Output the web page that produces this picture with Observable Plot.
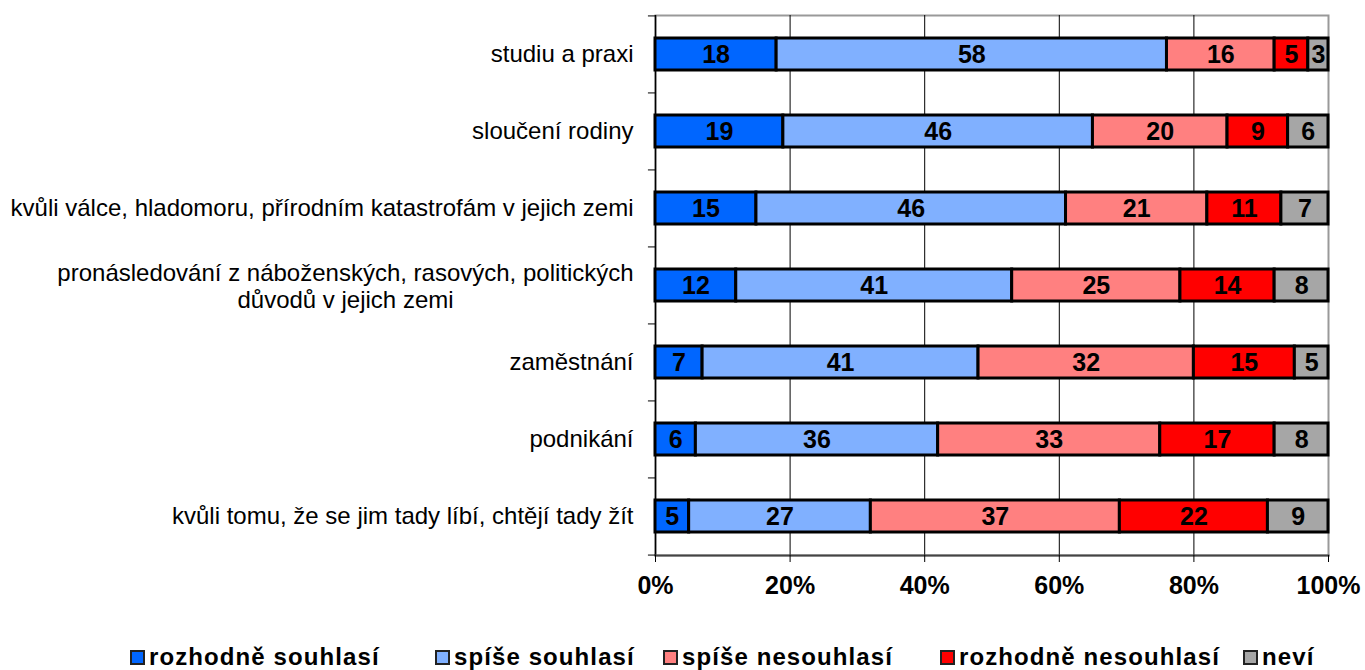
<!DOCTYPE html>
<html>
<head>
<meta charset="utf-8">
<script src="https://cdn.jsdelivr.net/npm/d3@7"></script>
<script src="https://cdn.jsdelivr.net/npm/@observablehq/plot@0.6"></script>
<style>
  body { margin: 0; background: #fff; font-family: "Liberation Sans", Arial, sans-serif; }
  #chart { position: relative; width: 1365px; }
  #legend { position: relative; height: 38px; width: 1365px; font-weight: bold; font-size: 24px; letter-spacing: 1.1px; color: #000; }
  .item { position: absolute; top: 10px; display: flex; align-items: center; white-space: nowrap; line-height: 30px; }
  .sw { width: 11px; height: 11px; border: 2px solid #222; margin-right: 4px; }
</style>
</head>
<body>
<div id="chart"></div>
<div id="legend"></div>
<script>
const categories = [
  "studiu a praxi",
  "sloučení rodiny",
  "kvůli válce, hladomoru, přírodním katastrofám v jejich zemi",
  "pronásledování z náboženských, rasových, politických\ndůvodů v jejich zemi",
  "zaměstnání",
  "podnikání",
  "kvůli tomu, že se jim tady líbí, chtějí tady žít"
];
const series = ["rozhodně souhlasí", "spíše souhlasí", "spíše nesouhlasí", "rozhodně nesouhlasí", "neví"];
const colors = ["#0066FF", "#80B0FF", "#FF8080", "#FF0000", "#A6A6A6"];
const rozhodneSouhlasi = [18, 19, 15, 12, 7, 6, 5];
const spiseSouhlasi = [58, 46, 46, 41, 41, 36, 27];
const spiseNesouhlasi = [16, 20, 21, 25, 32, 33, 37];
const rozhodneNesouhlasi = [5, 9, 11, 14, 15, 17, 22];
const nevi = [3, 6, 7, 8, 5, 8, 9];
const xTicks = [0, 20, 40, 60, 80, 100];
const legendLeft = [130, 435, 663, 940, 1243];

const seriesValues = [rozhodneSouhlasi, spiseSouhlasi, spiseNesouhlasi, rozhodneNesouhlasi, nevi];
const data = [];
categories.forEach((c, i) => {
  series.forEach((s, j) => data.push({category: c, series: s, value: seriesValues[j][i]}));
});

const multi = categories.filter(c => c.includes("\n"));
const single = categories.filter(c => !c.includes("\n"));
const lastCat = categories[categories.length - 1];
const step = (555 - 15) / categories.length;

const chart = Plot.plot({
  width: 1365,
  height: 632,
  marginLeft: 655,
  marginRight: 37,
  marginTop: 15,
  marginBottom: 77,
  style: {fontFamily: "'Liberation Sans', Arial, sans-serif", background: "#fff"},
  x: {domain: [0, 100], axis: null},
  y: {domain: categories, paddingInner: 0.584, paddingOuter: 0.292, axis: null},
  color: {domain: series, range: colors},
  marks: [
    Plot.frame({stroke: "#999", strokeWidth: 2}),
    Plot.gridX(xTicks.slice(1, -1), {stroke: "#000", strokeOpacity: 1, strokeWidth: 1}),
    Plot.ruleX([0], {stroke: "#000", strokeWidth: 1.5}),
    Plot.frame({anchor: "bottom", stroke: "#444", strokeWidth: 2}),
    Plot.ruleY(categories, {y: d => d, x1: -1.05, x2: 0, dy: -step / 2, stroke: "#000"}),
    Plot.ruleY([lastCat], {y: d => d, x1: -1.05, x2: 0, dy: step / 2, stroke: "#000"}),
    Plot.axisX(xTicks, {label: null, tickFormat: d => d + "%", tickSize: 7, tickPadding: 14, fontSize: 25, fontWeight: "bold", fill: "#000", stroke: "#000"}),
    Plot.barX(data, Plot.stackX({x: "value", y: "category", fill: "series", stroke: "#000", strokeWidth: 3})),
    Plot.text(data, Plot.stackX({x: "value", y: "category", text: d => String(d.value), fill: "#000", fontSize: 25, fontWeight: "bold"})),
    Plot.text(single, {y: d => d, text: d => d, frameAnchor: "left", textAnchor: "end", dx: -22, fontSize: 24, fill: "#000"}),
    Plot.text(multi, {y: d => d, text: d => d, frameAnchor: "left", textAnchor: "middle", dx: -310, fontSize: 24, lineHeight: 1.15, fill: "#000"})
  ]
});
document.getElementById("chart").appendChild(chart);

const legend = document.getElementById("legend");
series.forEach((s, j) => {
  const item = document.createElement("div");
  item.className = "item";
  item.style.left = legendLeft[j] + "px";
  const sw = document.createElement("div");
  sw.className = "sw";
  sw.style.background = colors[j];
  const t = document.createElement("span");
  t.textContent = s;
  item.appendChild(sw);
  item.appendChild(t);
  legend.appendChild(item);
});
</script>
</body>
</html>
